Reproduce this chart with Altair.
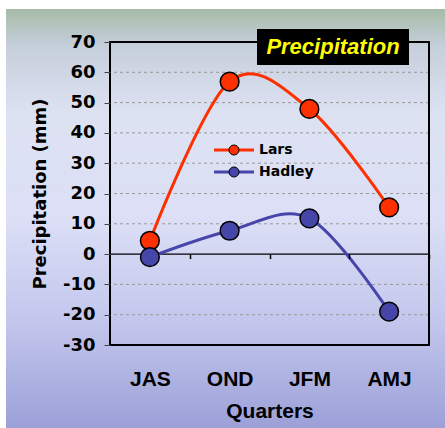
import altair as alt
import pandas as pd

# Quarterly precipitation anomalies (mm) for two models
quarters = ["JAS", "OND", "JFM", "AMJ"]
lars = [4.4, 56.9, 47.9, 15.4]
hadley = [-1.0, 7.7, 11.8, -19.0]
series_names = ["Lars", "Hadley"]
series_colors = ["#ff3000", "#4646aa"]
y_ticks = list(range(-30, 71, 10))
grid_values = [v for v in y_ticks if v not in (-30, 0, 70)]
zero_value = [0]

W, H = 319, 303

df = pd.DataFrame({
    "quarter": quarters * 2,
    "series": ["Lars"] * len(quarters) + ["Hadley"] * len(quarters),
    "precip": lars + hadley,
})
one = pd.DataFrame({"k": [0]})

x_scale = alt.Scale(type="point", padding=0.5)
y_scale = alt.Scale(domain=[-30, 70], nice=False, zero=False)

BOLD_SANS = "DejaVu Sans"
ARIAL = "Liberation Sans"

y_axis = alt.Axis(
    values=y_ticks, domain=False, grid=False, ticks=True, tickSize=6,
    tickColor="#444444", tickWidth=1,
    labelExpr="'' + datum.value",
    labelFont=BOLD_SANS, labelFontWeight="bold", labelFontSize=18,
    labelColor="black", labelPadding=9,
    title="Precipitation (mm)", titleFont=BOLD_SANS, titleFontWeight="bold",
    titleFontSize=18, titleColor="black", titleX=-70, titleY=H / 2,
    titleAngle=270, titleAlign="center", titleBaseline="middle", zindex=1,
)

# page background gradient
bg = alt.Chart(one).mark_rect(
    fill=alt.LinearGradient(
        gradient="linear", x1=0, x2=0, y1=0, y2=1,
        stops=[
            alt.GradientStop(color="#a7bba7", offset=0),
            alt.GradientStop(color="#c6cfdc", offset=0.09),
            alt.GradientStop(color="#dde2f2", offset=0.25),
            alt.GradientStop(color="#dcdff6", offset=0.5),
            alt.GradientStop(color="#c2c6ec", offset=0.75),
            alt.GradientStop(color="#9ca0d8", offset=1),
        ],
    )
).encode(x=alt.value(-104), x2=alt.value(335), y=alt.value(-33), y2=alt.value(386))

grid = alt.Chart(pd.DataFrame({"v": grid_values})).mark_rule(
    color="#999999", strokeDash=[3, 3], strokeWidth=1
).encode(y=alt.Y("v:Q", scale=y_scale, axis=y_axis, title="Precipitation (mm)"))

zero_line = alt.Chart(pd.DataFrame({"v": zero_value})).mark_rule(
    color="black", strokeWidth=1.2
).encode(y=alt.Y("v:Q", scale=y_scale, axis=y_axis, title="Precipitation (mm)"))

frame = alt.Chart(one).mark_rect(
    fillOpacity=0, stroke="black", strokeWidth=2
).encode(x=alt.value(0), x2=alt.value(W), y=alt.value(0), y2=alt.value(H))

# category ticks hanging below the zero line
tick_axis = alt.Axis(
    orient="bottom", offset=-(H * 30 / 100), domain=False, labels=False,
    ticks=True, tickSize=4.5, tickColor="black", tickWidth=1.5,
    tickOffset=W / 8, grid=False, title=None, zindex=1,
)

label_axis = alt.Axis(
    orient="bottom", domain=False, ticks=False, tickSize=0, grid=False,
    labelFont=ARIAL, labelFontWeight="bold", labelFontSize=21,
    labelColor="black", labelPadding=40, labelBaseline="alphabetic", labelAngle=0,
    title="Quarters", titleFont=ARIAL, titleFontWeight="bold", titleFontSize=21,
    titleColor="black", titleX=W / 2, titleY=72.5, titleAlign="center",
    titleBaseline="alphabetic", zindex=1,
)

legend_common = dict(
    orient="none", legendX=117, legendY=101, direction="vertical", title=None,
    padding=0, symbolSize=100, labelFont=BOLD_SANS, labelFontWeight="bold",
    labelFontSize=14, labelColor="black", labelOffset=18, rowPadding=8,
)

lines = alt.Chart(df).mark_line(interpolate="cardinal", strokeWidth=3).encode(
    x=alt.X("quarter:N", sort=quarters, scale=x_scale, axis=tick_axis),
    y=alt.Y("precip:Q", scale=y_scale, axis=y_axis, title="Precipitation (mm)"),
    stroke=alt.Stroke(
        "series:N", sort=series_names, scale=alt.Scale(range=series_colors),
        legend=alt.Legend(symbolType="M-4,0H4", symbolStrokeWidth=3,
                          labelOpacity=0, zindex=1, **legend_common),
    ),
)

points = alt.Chart(df).transform_calculate(name="datum.series").mark_circle(
    size=350, stroke="black", strokeWidth=1.5, opacity=1
).encode(
    x=alt.X("quarter:N", sort=quarters, scale=x_scale, axis=label_axis),
    y=alt.Y("precip:Q", scale=y_scale, axis=y_axis, title="Precipitation (mm)"),
    fill=alt.Fill(
        "name:N", sort=series_names, scale=alt.Scale(range=series_colors),
        legend=alt.Legend(symbolType="circle", symbolStrokeColor="black",
                          symbolStrokeWidth=1, zindex=2, **legend_common),
    ),
)

title_box = alt.Chart(one).mark_rect(fill="black").encode(
    x=alt.value(147), x2=alt.value(299), y=alt.value(-13), y2=alt.value(23)
)
title_text = alt.Chart(one).mark_text(
    text="Precipitation", font=ARIAL, fontWeight="bold", fontStyle="italic",
    fontSize=22, color="#ffff00", align="center", baseline="alphabetic",
).encode(x=alt.value(223), y=alt.value(12.3))

chart = alt.layer(
    bg, grid, zero_line, frame, lines, points, title_box, title_text
).resolve_axis(x="independent").properties(
    width=W, height=H,
    autosize=alt.AutoSizeParams(type="none"),
    padding={"left": 110, "top": 42, "right": 16, "bottom": 83},
    background="white",
).configure_view(stroke="transparent")

chart.save("out.html", embed_options={"renderer": "svg", "actions": False})
